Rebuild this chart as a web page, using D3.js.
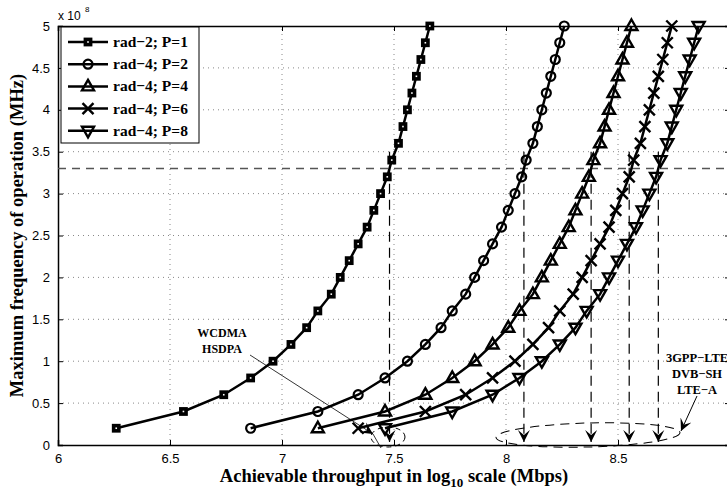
<!DOCTYPE html>
<html>
<head>
<meta charset="UTF-8">
<script src="https://d3js.org/d3.v7.min.js"></script>
<style>
  body { margin: 0; background: #fff; }
  .tick-lab { font-family: "Liberation Sans", Arial, sans-serif; font-size: 13px; fill: #000; }
  .bold { font-family: "Liberation Serif", "Times New Roman", serif; font-weight: bold; fill: #000; }
</style>
</head>
<body>
<div id="chart"></div>
<script>
// frequency (units of 1e8 MHz) at each marker
const freq = [0.2,0.4,0.6,0.8,1.0,1.2,1.4,1.6,1.8,2.0,2.2,2.4,2.6,2.8,3.0,3.2,3.4,3.6,3.8,4.0,4.2,4.4,4.6,4.8,5.0];

// throughput (log10 Mbps)
const rad2P1 = [6.26,6.56,6.74,6.86,6.96,7.04,7.11,7.16,7.22,7.26,7.30,7.34,7.38,7.41,7.44,7.47,7.49,7.52,7.54,7.56,7.58,7.60,7.62,7.64,7.66];
const rad4P2 = [6.86,7.16,7.34,7.46,7.56,7.64,7.71,7.76,7.82,7.86,7.90,7.94,7.98,8.01,8.04,8.07,8.09,8.12,8.14,8.16,8.18,8.20,8.22,8.24,8.26];
const rad4P4 = [7.16,7.46,7.64,7.76,7.86,7.94,8.01,8.06,8.12,8.16,8.20,8.24,8.28,8.31,8.34,8.37,8.39,8.42,8.44,8.46,8.48,8.50,8.52,8.54,8.56];
const rad4P6 = [7.34,7.64,7.82,7.94,8.04,8.12,8.19,8.24,8.30,8.34,8.38,8.42,8.46,8.49,8.52,8.55,8.57,8.60,8.62,8.64,8.66,8.68,8.70,8.72,8.74];
const rad4P8 = [7.46,7.76,7.94,8.06,8.16,8.24,8.31,8.36,8.42,8.46,8.50,8.54,8.58,8.61,8.64,8.67,8.69,8.72,8.74,8.76,8.78,8.80,8.82,8.84,8.86];

const seriesNames = ["rad\u22122; P=1","rad\u22124; P=2","rad\u22124; P=4","rad\u22124; P=6","rad\u22124; P=8"];
const seriesMarkers = ["square","circle","up","cross","down"];

const xTicks = [6,6.5,7,7.5,8,8.5,9];
const yTicks = [0,0.5,1,1.5,2,2.5,3,3.5,4,4.5,5];

// operating frequency line and throughput crossings
const fLine = 3.3;
const crossX = [7.48,8.08,8.38,8.55,8.68];

const W = 727, H = 492;
const x = d3.scaleLinear().domain([6,9]).range([58,730]);
const y = d3.scaleLinear().domain([0,5]).range([445,26]);

const svg = d3.select("#chart").append("svg")
  .attr("width", W).attr("height", H);

const defs = svg.append("defs");
defs.append("marker").attr("id","arr")
  .attr("viewBox","-12 -7 14 14").attr("refX",0).attr("refY",0)
  .attr("markerWidth",14).attr("markerHeight",14).attr("markerUnits","userSpaceOnUse")
  .attr("orient","auto")
  .append("path").attr("d","M0,0 L-12,-6 L-7,0 L-12,6 Z").attr("fill","#000");

// grid
const grid = svg.append("g");
xTicks.slice(1,-1).forEach(t => grid.append("line")
  .attr("x1",x(t)).attr("x2",x(t)).attr("y1",y(0)).attr("y2",y(5))
  .attr("stroke","#888").attr("stroke-dasharray","1,4"));
yTicks.slice(1,-1).forEach(t => grid.append("line")
  .attr("x1",x(6)).attr("x2",x(9)).attr("y1",y(t)).attr("y2",y(t))
  .attr("stroke","#888").attr("stroke-dasharray","1,4"));

// axes (matlab style, ticks inward on all sides)
const ax = svg.append("g");
ax.append("g").attr("transform",`translate(0,${y(0)})`)
  .call(d3.axisBottom(x).tickValues(xTicks).tickSize(-5).tickPadding(9).tickFormat(d3.format("")));
ax.append("g").attr("transform",`translate(${x(6)},0)`)
  .call(d3.axisLeft(y).tickValues(yTicks).tickSize(-5).tickPadding(8).tickFormat(d3.format("")));
ax.append("g").attr("transform",`translate(0,${y(5)})`)
  .call(d3.axisTop(x).tickValues(xTicks).tickSize(-5).tickFormat(""));
ax.append("g").attr("transform",`translate(${x(9)},0)`)
  .call(d3.axisRight(y).tickValues(yTicks).tickSize(-5).tickFormat(""));
ax.selectAll(".domain").attr("stroke","#000").attr("stroke-width",1.5);
ax.selectAll(".tick line").attr("stroke","#000");
ax.selectAll(".tick text").attr("class","tick-lab").attr("font-size",null).attr("font-family",null);

svg.append("text").attr("class","tick-lab").style("font-size","12px").attr("x",58).attr("y",20).text("x 10");
svg.append("text").attr("class","tick-lab").style("font-size","8px").attr("x",85).attr("y",12).text("8");

// dashed reference lines
svg.append("line").attr("x1",x(6)).attr("x2",x(9)).attr("y1",y(fLine)).attr("y2",y(fLine))
  .attr("stroke","#555").attr("stroke-width",1.5).attr("stroke-dasharray","8,6");
crossX.forEach(v => svg.append("line")
  .attr("x1",x(v)).attr("x2",x(v)).attr("y1",y(3.5)).attr("y2",y(0.035))
  .attr("stroke","#000").attr("stroke-width",1.2).attr("stroke-dasharray","10,6")
  .attr("marker-end","url(#arr)"));

// ellipses
svg.append("ellipse").attr("cx",388).attr("cy",437).attr("rx",17).attr("ry",10)
  .attr("fill","none").attr("stroke","#000").attr("stroke-dasharray","5,4");
svg.append("ellipse").attr("cx",588).attr("cy",435).attr("rx",92).attr("ry",12)
  .attr("transform","rotate(-1.5,588,435)")
  .attr("fill","none").attr("stroke","#000").attr("stroke-dasharray","9,6");

// curves
const allSeries = [rad2P1, rad4P2, rad4P4, rad4P6, rad4P8];
const line = d3.line().x(d => x(d[0])).y(d => y(d[1]));

function drawMarker(g, type, cx, cy) {
  const s = g.append("g").attr("transform",`translate(${cx},${cy})`);
  let el;
  if (type === "square") el = s.append("rect").attr("x",-2.6).attr("y",-2.6).attr("width",5.2).attr("height",5.2).attr("fill","#fff").attr("stroke-width",3.6);
  else if (type === "circle") el = s.append("circle").attr("r",4.5).attr("stroke-width",2.2);
  else if (type === "up") el = s.append("path").attr("d","M0,-6.5 L6,4 L-6,4 Z").attr("stroke-width",2.4);
  else if (type === "down") el = s.append("path").attr("d","M0,6.5 L6,-4 L-6,-4 Z").attr("stroke-width",2.4);
  else el = s.append("path").attr("d","M-5.5,-5.5 L5.5,5.5 M-5.5,5.5 L5.5,-5.5").attr("stroke-width",2.4);
  el.attr("stroke","#000");
  if (type !== "square") el.attr("fill","none");
}

allSeries.forEach((xs, i) => {
  const pts = xs.map((v, j) => [v, freq[j]]);
  svg.append("path").datum(pts).attr("d", line)
    .attr("fill","none").attr("stroke","#000").attr("stroke-width",2.5);
  const g = svg.append("g");
  pts.forEach(p => drawMarker(g, seriesMarkers[i], x(p[0]), y(p[1])));
});

// annotations
svg.append("text").attr("class","bold").attr("font-size","12px").attr("text-anchor","middle")
  .attr("x",222).attr("y",337).text("WCDMA");
svg.append("text").attr("class","bold").attr("font-size","12px").attr("text-anchor","middle")
  .attr("x",222).attr("y",353).text("HSDPA");
svg.append("line").attr("x1",250).attr("y1",355).attr("x2",373).attr("y2",434)
  .attr("stroke","#000").attr("stroke-width",0.8).attr("marker-end","url(#arr)");
svg.append("line").attr("x1",373).attr("y1",434).attr("x2",381).attr("y2",448)
  .attr("stroke","#000").attr("stroke-width",0.8);

["3GPP\u2212LTE","DVB\u2212SH","LTE\u2212A"].forEach((t, i) =>
  svg.append("text").attr("class","bold").attr("font-size","12.5px").attr("text-anchor","middle")
    .attr("x",697).attr("y",362 + i*16).text(t));
svg.append("line").attr("x1",697).attr("y1",396).attr("x2",681).attr("y2",431)
  .attr("stroke","#000").attr("stroke-width",1).attr("marker-end","url(#arr)");

// axis titles
const xt = svg.append("text").attr("class","bold").attr("font-size","18.5px").attr("text-anchor","middle")
  .attr("x",394).attr("y",482);
xt.append("tspan").text("Achievable throughput in log");
xt.append("tspan").attr("font-size","13px").attr("dy",5).text("10");
xt.append("tspan").attr("dy",-5).text(" scale (Mbps)");

svg.append("text").attr("class","bold").attr("font-size","18.5px").attr("text-anchor","middle")
  .attr("transform",`translate(23,${(y(0)+y(5))/2}) rotate(-90)`)
  .text("Maximum frequency of operation (MHz)");

// legend
const lg = svg.append("g");
lg.append("rect").attr("x",61).attr("y",27).attr("width",138).attr("height",116)
  .attr("fill","#fff").attr("stroke","#000").attr("stroke-width",1);
seriesNames.forEach((n, i) => {
  const yy = 42 + i*22.2;
  lg.append("line").attr("x1",68).attr("x2",108).attr("y1",yy).attr("y2",yy)
    .attr("stroke","#000").attr("stroke-width",2.5);
  drawMarker(lg, seriesMarkers[i], 88, yy);
  lg.append("text").attr("class","bold").attr("font-size","15.5px")
    .attr("x",113).attr("y",yy+5).text(n);
});
</script>
</body>
</html>
